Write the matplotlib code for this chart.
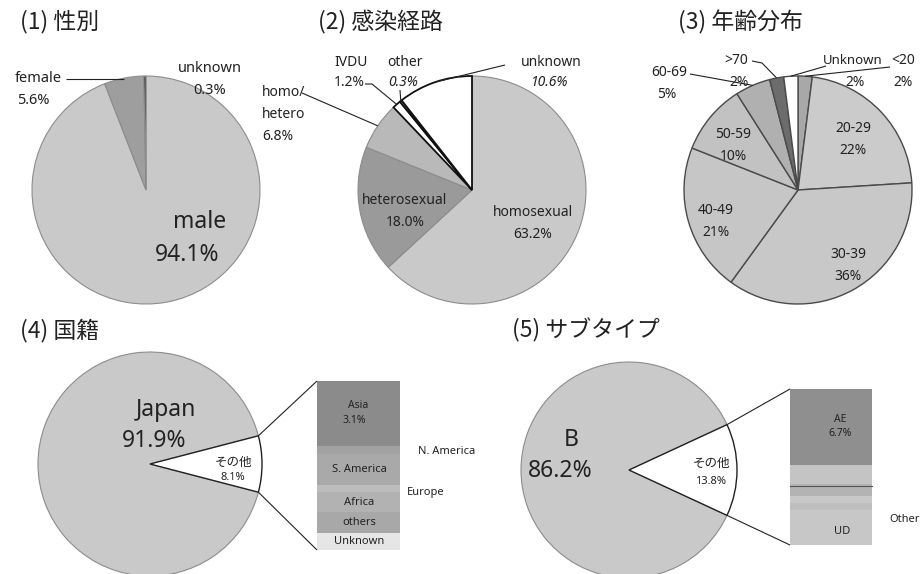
import numpy as np
import matplotlib.pyplot as plt

W, H = 923, 574

# (1) 性別
sex_labels = ['male', 'female', 'unknown']
sex_vals = [94.1, 5.6, 0.3]

# (2) 感染経路
route_labels = ['homosexual', 'heterosexual', 'homo/\nhetero', 'IVDU', 'other', 'unknown']
route_vals = [63.2, 18.0, 6.8, 1.2, 0.3, 10.6]

# (3) 年齢分布
age_labels = ['<20', '20-29', '30-39', '40-49', '50-59', '60-69', '>70', 'Unknown']
age_vals = [2, 22, 36, 21, 10, 5, 2, 2]

# (4) 国籍
nat_labels = ['その他', 'Japan']
nat_vals = [8.1, 91.9]
nat_sub_labels = ['Asia', 'N. America', 'S. America', 'Europe', 'Africa', 'others', 'Unknown']
nat_sub_vals = [3.1, 0.4, 1.5, 0.3, 1.0, 1.0, 0.8]

# (5) サブタイプ
st_labels = ['その他', 'B']
st_vals = [13.8, 86.2]
st_sub_labels = ['AE', '', '', '', '', 'UD']
st_sub_vals = [6.7, 1.7, 1.1, 0.6, 0.6, 3.1]

LAT = ['Noto Sans', 'Noto Sans CJK JP']
JP = ['Noto Sans CJK JP', 'DejaVu Sans']
TC = '#222222'

fig = plt.figure(figsize=(W / 100, H / 100), dpi=100)
ax = fig.add_axes([0, 0, 1, 1])


def txt(x, y, s, size=10.5, ha='center', **kw):
    ax.text(x, H - y, s, fontsize=size, ha=ha, va='center', family=LAT,
            color=TC, linespacing=1.35, **kw)


def title(x, y, s):
    ax.text(x, H - y, s, fontsize=16.5, ha='left', va='center', family=JP, color=TC)


def pie(vals, cx, cy, r, colors, start=90, ec='#8c8c8c', lw=0.8):
    wedges, _ = ax.pie(vals, colors=colors, center=(cx, H - cy), radius=r,
                       startangle=start, counterclock=False,
                       wedgeprops=dict(edgecolor=ec, linewidth=lw))
    return wedges


def mid(w, frac=1.0):
    a = np.deg2rad((w.theta1 + w.theta2) / 2)
    return w.center[0] + frac * w.r * np.cos(a), w.center[1] + frac * w.r * np.sin(a)


def leader(pts):
    xs = [p[0] for p in pts]
    ys = [p[1] for p in pts]
    ax.plot(xs, ys, color='#222222', lw=0.8, solid_capstyle='butt')


def P(x, y):
    return (x, H - y)


# ---------- (1) 性別 ----------
title(20, 22, '(1) 性別')
w1 = pie(sex_vals, 146, 190, 114, ['#c9c9c9', '#9e9e9e', '#333333'])
txt(200, 222, 'male', 16.5)
txt(187, 255, '94.1%', 16.5)
txt(38, 78, 'female')
txt(33, 100, '5.6%')
leader([P(66, 79), (mid(w1[1])[0], H - 79)])
txt(210, 68, 'unknown')
txt(210, 90, '0.3%')

# ---------- (2) 感染経路 ----------
title(318, 22, '(2) 感染経路')
w2 = pie(route_vals, 472, 190, 114,
         ['#c9c9c9', '#9a9a9a', '#b9b9b9', 'white', 'white', 'white'])
for w in w2[3:]:
    w.set_edgecolor('#111111')
    w.set_linewidth(1.3)
w2[0].set_zorder(1)
for w in w2[3:]:
    w.set_zorder(2)
txt(533, 213, 'homosexual', 10)
txt(533, 235, '63.2%', 10)
txt(405, 200, 'heterosexual', 10)
txt(405, 222, '18.0%', 10)
txt(262, 92, 'homo/', 10, ha='left')
txt(262, 114, 'hetero', 10, ha='left')
txt(262, 136, '6.8%', 10, ha='left')
leader([P(302, 93), mid(w2[2])])
txt(351, 62, 'IVDU', 10)
txt(349, 82, '1.2%', 10)
leader([P(365, 84), P(372, 84), mid(w2[3])])
txt(405, 62, 'other', 10)
txt(403, 82, '0.3%', 10, style='italic')
leader([P(400, 90), mid(w2[4])])
txt(551, 62, 'unknown', 10)
txt(549, 82, '10.6%', 10, style='italic')
leader([P(505, 65), mid(w2[5], 1.0)])

# ---------- (3) 年齢分布 ----------
title(678, 22, '(3) 年齢分布')
w3 = pie(age_vals, 798, 190, 114,
         ['#a8a8a8', '#cbcbcb', '#c8c8c8', '#c6c6c6', '#c2c2c2', '#b0b0b0', '#6c6c6c', 'white'],
         ec='#4a4a4a', lw=1.0)
txt(853, 128, '20-29', 10)
txt(853, 150, '22%', 10)
txt(848, 254, '30-39', 10)
txt(848, 276, '36%', 10)
txt(716, 211, '40-49', 10)
txt(716, 233, '21%', 10)
txt(733, 135, '50-59', 10)
txt(733, 156, '10%', 10)
txt(669, 72, '60-69', 10)
txt(667, 94, '5%', 10)
leader([P(690, 74), mid(w3[5])])
txt(736, 61, '>70', 10)
txt(739, 83, '2%', 10)
leader([P(752, 61), P(762, 63), mid(w3[6])])
txt(853, 61, 'Unknown', 9.5)
txt(855, 83, '2%', 10)
leader([mid(w3[7]), P(826, 66)])
txt(903, 61, '<20', 10)
txt(903, 83, '2%', 10)
leader([mid(w3[0]), P(890, 67)])


def bar_of_pie(vals, cx, cy, r, colors):
    wedges = pie(vals, cx, cy, r, colors, start=vals[0] / 100 * 180, ec='#8c8c8c')
    wedges[0].set_edgecolor('#222222')
    wedges[0].set_linewidth(1.0)
    wedges[0].set_zorder(3)
    return wedges


def stack(vals, cols, bx0, bx1, by0, by1):
    scale = (by1 - by0) / sum(vals)
    tops = H - by0 - np.concatenate([[0], np.cumsum(vals)[:-1]]) * scale
    hs = np.array(vals) * scale
    ax.bar([(bx0 + bx1) / 2] * len(vals), hs, bottom=tops - hs, width=bx1 - bx0,
           color=cols, edgecolor='none')
    return tops - hs / 2


def connect(w, bx0, by0, by1):
    c, r = w.center, w.r
    a1, a2 = np.deg2rad(w.theta2), np.deg2rad(w.theta1)
    leader([(c[0] + r * np.cos(a1), c[1] + r * np.sin(a1)), P(bx0, by0)])
    leader([(c[0] + r * np.cos(a2), c[1] + r * np.sin(a2)), P(bx0, by1)])


# ---------- (4) 国籍 ----------
title(20, 330, '(4) 国籍')
w4 = bar_of_pie(nat_vals, 150, 464, 112, ['white', '#c9c9c9'])
connect(w4[0], 317, 381, 550)
ys = stack(nat_sub_vals, ['#8b8b8b', '#a2a2a2', '#a9a9a9', '#bdbdbd', '#b2b2b2', '#a8a8a8', '#e6e6e6'],
           317, 400, 381, 550)
txt(166, 410, 'Japan', 16.5)
txt(154, 441, '91.9%', 16.5)
txt(233, 462, nat_labels[0], 9)
txt(233, 477, '8.1%', 8)
txt(358, H - ys[0] - 8, nat_sub_labels[0], 7.5)
txt(354, H - ys[0] + 7, '3.1%', 7.5)
for i in [2, 4, 5, 6]:
    txt(359, H - ys[i], nat_sub_labels[i], 8)
txt(418, H - ys[1] + 2, nat_sub_labels[1], 8, ha='left')
txt(407, H - ys[3] + 4, nat_sub_labels[3], 8, ha='left')

# ---------- (5) サブタイプ ----------
title(512, 330, '(5) サブタイプ')
w5 = bar_of_pie(st_vals, 629, 470, 108, ['white', '#c9c9c9'])
connect(w5[0], 790, 389, 545)
ys = stack(st_sub_vals, ['#8f8f8f', '#c4c4c4', '#b3b3b3', '#c8c8c8', '#bebebe', '#c7c7c7'],
           790, 872, 389, 545)
ax.plot([790, 872], [H - 486, H - 486], color='#555555', lw=0.8)
txt(571, 440, 'B', 16.5)
txt(560, 471, '86.2%', 16.5)
txt(711, 463, st_labels[0], 9)
txt(711, 482, '13.8%', 8)
txt(840, H - ys[0], 'AE\n6.7%', 7.5)
txt(842, H - ys[5] + 4, st_sub_labels[5], 8)
txt(889, 520, 'Other', 8, ha='left')

ax.set_xlim(0, W)
ax.set_ylim(0, H)
ax.set_aspect('equal')
ax.axis('off')
fig.savefig('out.png', dpi=100, facecolor='white')
